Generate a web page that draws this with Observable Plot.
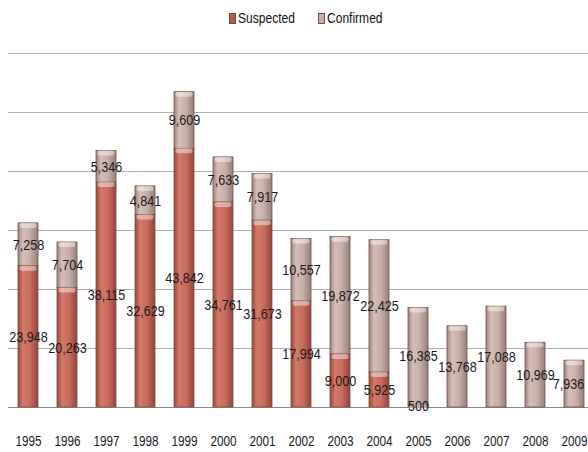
<!DOCTYPE html>
<html>
<head>
<meta charset="utf-8">
<script src="https://cdn.jsdelivr.net/npm/d3@7"></script>
<script src="https://cdn.jsdelivr.net/npm/@observablehq/plot@0.6"></script>
<style>
  html, body { margin: 0; padding: 0; background: #fff; }
  #wrap { position: relative; width: 588px; height: 452px; overflow: hidden; }
  #legend { position: absolute; top: 0; left: 0; width: 588px; height: 40px; font-family: "Liberation Sans", Arial, sans-serif; font-size: 14px; color: #111; }
  .sw { position: absolute; top: 13px; width: 7px; height: 11px; border: 1px solid #7a4a42; box-sizing: border-box; }
  .lt { position: absolute; top: 10px; line-height: 16px; white-space: nowrap; transform: scaleX(0.86); transform-origin: 0 0; }
</style>
</head>
<body>
<div id="wrap">
  <div id="chart"></div>
  <div id="legend"></div>
</div>
<script>
const years = ["1995","1996","1997","1998","1999","2000","2001","2002","2003","2004","2005","2006","2007","2008","2009"];
const suspected = [23948, 20263, 38115, 32629, 43842, 34761, 31673, 17994, 9000, 5925, 500, 0, 0, 0, 0];
const confirmed = [7258, 7704, 5346, 4841, 9609, 7633, 7917, 10557, 19872, 22425, 16385, 13768, 17088, 10969, 7936];
const seriesNames = ["Suspected", "Confirmed"];
const seriesFills = ["url(#gradS)", "url(#gradC)"];
const legendColors = ["#b9584a", "#c9aca7"];
const yTicks = [0, 10000, 20000, 30000, 40000, 50000, 60000];

const rows = [];
years.forEach((yr, i) => {
  const s = suspected[i], c = confirmed[i];
  rows.push({year: yr, series: "Suspected", value: s, y1: 0, y2: s});
  rows.push({year: yr, series: "Confirmed", value: c, y1: s, y2: s + c});
});
const shown = rows.filter(d => d.value > 0);
const lastYear = years[years.length - 1];
const fmt = d3.format(",");

const chart = Plot.plot({
  width: 588,
  height: 452,
  marginTop: 53,
  marginBottom: 45,
  marginLeft: 8,
  marginRight: 0,
  style: {fontFamily: "'Liberation Sans', Arial, sans-serif", background: "#fff"},
  x: {domain: years, range: [-2, 603.5], padding: 0.488, axis: null},
  y: {domain: [0, 60000], axis: null},
  color: {domain: seriesNames, range: seriesFills},
  marks: [
    Plot.ruleY(yTicks.slice(1), {stroke: "#b0b0b0", strokeWidth: 1}),
    Plot.ruleY([0], {stroke: "#8a8a8a", strokeWidth: 1.2}),
    Plot.barY(shown, {x: "year", y1: "y1", y2: "y2", fill: "series", stroke: "#7a4e46", strokeWidth: 0.8}),
    Plot.barY(shown, {x: "year", y1: "y2", y2: "y2", insetBottom: -5, insetLeft: 1.5, insetRight: 1.5, fill: "#ffffff", fillOpacity: 0.45, rx: 2}),
    Plot.text(shown.filter(d => d.year !== lastYear), {x: "year", y: d => (d.y1 + d.y2) / 2, text: d => fmt(d.value), fontSize: 15, fill: "#1a1a1a"}),
    Plot.text(shown.filter(d => d.year === lastYear), {x: "year", y: d => (d.y1 + d.y2) / 2, text: d => fmt(d.value), fontSize: 15, fill: "#1a1a1a", dx: -6}),
    Plot.axisX({domain: years, tickSize: 0, tickPadding: 29, fontSize: 14, fill: "#1a1a1a", label: null})
  ]
});

// gradients imitating the cylinder shading
const defs = d3.select(chart).insert("defs", ":first-child");
function grad(id, stops) {
  const g = defs.append("linearGradient").attr("id", id).attr("x1", 0).attr("x2", 1).attr("y1", 0).attr("y2", 0);
  stops.forEach(([o, c]) => g.append("stop").attr("offset", o).attr("stop-color", c));
}
grad("gradS", [[0, "#9c463b"], [0.25, "#d27a69"], [0.6, "#c96c5c"], [1, "#93443a"]]);
grad("gradC", [[0, "#9a8580"], [0.25, "#d6bdb8"], [0.6, "#c8aea9"], [1, "#938079"]]);

// condensed, tall lettering like the original
d3.select(chart).selectAll("text").each(function() {
  const t = this.getAttribute("transform");
  if (t) this.setAttribute("transform", t + " scale(0.84,1)");
  else {
    const x = +this.getAttribute("x") || 0;
    this.setAttribute("transform", `translate(${x},0) scale(0.84,1) translate(${-x},0)`);
  }
});

document.getElementById("chart").appendChild(chart);

const legend = document.getElementById("legend");
const legendPos = [[229, 238], [318, 327]];
seriesNames.forEach((name, i) => {
  const sw = document.createElement("span");
  sw.className = "sw";
  sw.style.left = legendPos[i][0] + "px";
  sw.style.background = legendColors[i];
  legend.appendChild(sw);
  const t = document.createElement("span");
  t.className = "lt";
  t.style.left = legendPos[i][1] + "px";
  t.textContent = name;
  legend.appendChild(t);
});
</script>
</body>
</html>
